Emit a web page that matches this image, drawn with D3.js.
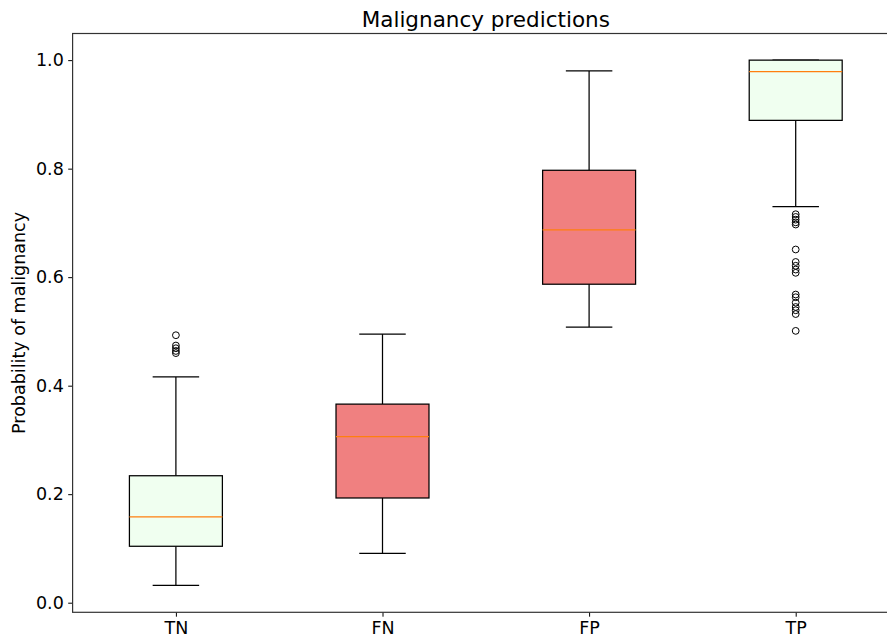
<!DOCTYPE html>
<html>
<head>
<meta charset="utf-8">
<script src="https://cdn.jsdelivr.net/npm/d3@7"></script>
<style>
  html, body { margin: 0; padding: 0; background: #fff; }
  svg { display: block; font-family: "DejaVu Sans", sans-serif; }
</style>
</head>
<body>
<svg id="chart" width="887" height="639"></svg>
<script>
// Box statistics per prediction outcome
const categories = ["TN", "FN", "FP", "TP"];
const q1Values = [0.104, 0.193, 0.587, 0.889];
const medianValues = [0.158, 0.306, 0.687, 0.979];
const q3Values = [0.234, 0.366, 0.797, 1.0];
const whiskerLow = [0.032, 0.091, 0.508, 0.730];
const whiskerHigh = [0.416, 0.495, 0.980, 1.0];
const outliers = [
  [0.493, 0.474, 0.469, 0.464, 0.460],
  [],
  [],
  [0.716, 0.711, 0.706, 0.701, 0.697, 0.651, 0.628, 0.621, 0.614, 0.608,
   0.568, 0.563, 0.553, 0.545, 0.539, 0.532, 0.501]
];
const fills = ["#f0fff0", "#f08080", "#f08080", "#f0fff0"];
const yTicks = [0.0, 0.2, 0.4, 0.6, 0.8, 1.0];

const svg = d3.select("#chart");
const plot = { left: 72.6, right: 899, top: 33.5, bottom: 612.3 };

// Positions 1..n with half-unit margins, as in a default box plot
const x = d3.scaleLinear().domain([0.5, categories.length + 0.5]).range([plot.left, plot.right]);
const y = d3.scaleLinear().domain([-0.0177, 1.0491]).range([plot.bottom, plot.top]);

const boxW = 0.45;   // box width in position units
const capW = boxW / 2;

const g = svg.append("g");

categories.forEach((cat, i) => {
  const pos = i + 1;
  const cx = x(pos);
  const bx0 = x(pos - boxW / 2), bx1 = x(pos + boxW / 2);
  const cx0 = x(pos - capW / 2), cx1 = x(pos + capW / 2);
  const grp = g.append("g").attr("class", "box");

  // whiskers
  grp.append("line").attr("x1", cx).attr("x2", cx)
    .attr("y1", y(q1Values[i])).attr("y2", y(whiskerLow[i]))
    .attr("stroke", "#000").attr("stroke-width", 1.25);
  grp.append("line").attr("x1", cx).attr("x2", cx)
    .attr("y1", y(q3Values[i])).attr("y2", y(whiskerHigh[i]))
    .attr("stroke", "#000").attr("stroke-width", 1.25);
  // caps
  [whiskerLow[i], whiskerHigh[i]].forEach(v => {
    grp.append("line").attr("x1", cx0).attr("x2", cx1)
      .attr("y1", y(v)).attr("y2", y(v))
      .attr("stroke", "#000").attr("stroke-width", 1.25);
  });
  // box
  grp.append("rect")
    .attr("x", bx0).attr("width", bx1 - bx0)
    .attr("y", y(q3Values[i])).attr("height", y(q1Values[i]) - y(q3Values[i]))
    .attr("fill", fills[i]).attr("stroke", "#000").attr("stroke-width", 1.25);
  // median
  grp.append("line").attr("x1", bx0).attr("x2", bx1)
    .attr("y1", y(medianValues[i])).attr("y2", y(medianValues[i]))
    .attr("stroke", "#ff7f0e").attr("stroke-width", 1.25);
  // fliers
  grp.selectAll("circle").data(outliers[i]).enter().append("circle")
    .attr("cx", cx).attr("cy", d => y(d)).attr("r", 3.4)
    .attr("fill", "none").attr("stroke", "#000").attr("stroke-width", 1);
});

// Axes
const yAxis = d3.axisLeft(y).tickValues(yTicks).tickFormat(d3.format(".1f"))
  .tickSize(4.4).tickPadding(4.4);
const yG = svg.append("g").attr("transform", `translate(${plot.left},0)`).call(yAxis);
yG.select(".domain").remove();

const xAxis = d3.axisBottom(x).tickValues(categories.map((c, i) => i + 1))
  .tickFormat((d, i) => categories[i]).tickSize(4.4).tickPadding(4.4);
const xG = svg.append("g").attr("transform", `translate(0,${plot.bottom})`).call(xAxis);
xG.select(".domain").remove();

[yG, xG].forEach(a => {
  a.selectAll("text").attr("font-size", 17.5).attr("fill", "#000")
    .attr("font-family", "DejaVu Sans");
  a.selectAll(".tick line").attr("stroke", "#000").attr("stroke-width", 1);
});

// Frame
svg.append("rect")
  .attr("x", plot.left).attr("y", plot.top)
  .attr("width", plot.right - plot.left).attr("height", plot.bottom - plot.top)
  .attr("fill", "none").attr("stroke", "#333").attr("stroke-width", 1.2);

// Title and axis label
svg.append("text")
  .attr("x", (plot.left + plot.right) / 2).attr("y", 26.5)
  .attr("text-anchor", "middle").attr("font-size", 21.5).attr("fill", "#000")
  .text("Malignancy predictions");

svg.append("text")
  .attr("transform", `translate(25,${(plot.top + plot.bottom) / 2}) rotate(-90)`)
  .attr("text-anchor", "middle").attr("font-size", 17.5).attr("fill", "#000")
  .text("Probability of malignancy");
</script>
</body>
</html>
